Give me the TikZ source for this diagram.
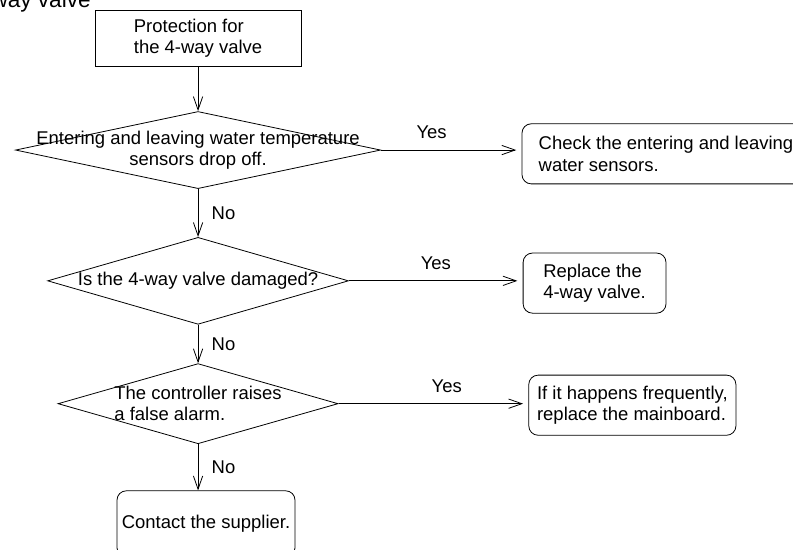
\documentclass[tikz,border=0pt]{standalone}
\usepackage{fontspec}
\setmainfont{Liberation Sans}
\usepackage{tikz}
\usetikzlibrary{positioning,arrows.meta,shapes.geometric}

\begin{document}
\begin{tikzpicture}[
  line width=0.6pt,
  txt/.style={font=\fontsize{13.9}{16}\selectfont},
  box/.style={draw, rectangle, txt, align=left, inner sep=2pt},
  rbox/.style={box, rounded corners=7pt, minimum height=1.59cm},
  dec/.style={draw, diamond, inner sep=0pt},
  dtxt/.style={txt, inner sep=0pt},
  lbl/.style={txt, inner sep=3pt},
  arr/.style={-{Straight Barb[length=10pt,width=7pt]}}
]
\useasboundingbox (0,0) rectangle (20.98,-14.525);

% cut-off heading
\node[font=\fontsize{17}{20}\selectfont, anchor=base east, inner sep=0pt] (title) at (2.41,-0.21) {way valve};

% main column
\node[box, minimum width=5.45cm, minimum height=1.48cm] (start) at (5.24,-1.02) {Protection for\\the 4-way valve};
\node[dec, minimum width=9.66cm, minimum height=2.04cm,
      label={[dtxt, align=center]center:Entering and leaving water temperature\\sensors drop off.}] (chk1) at (5.24,-3.97) {};
\node[dec, minimum width=7.96cm, minimum height=2.30cm,
      label={[dtxt, align=center]center:Is the 4-way valve damaged?}] (chk2) at (5.24,-7.43) {};
\node[dec, minimum width=7.41cm, minimum height=2.12cm,
      label={[dtxt, align=left]center:The controller raises\\a false alarm.}] (chk3) at (5.24,-10.68) {};
\node[rbox, minimum width=4.71cm, minimum height=1.75cm] (supplier) at (5.45,-13.86) {Contact the supplier.};

% actions
\node[rbox, minimum width=7.62cm] (sensors) at (17.62,-4.07) {Check the entering and leaving\\water sensors.};
\node[rbox, minimum width=3.78cm] (valve) at (15.73,-7.49) {Replace the\\4-way valve.};
\node[rbox, minimum width=5.48cm] (board) at (16.73,-10.72) {If it happens frequently,\\replace the mainboard.};

% Arrows
\draw[arr] (start) -- (chk1.north);
\draw[arr] (chk1.south) -- (chk2.north) node[lbl, midway, right=7pt] {No};
\draw[arr] (chk2.south) -- (chk3.north) node[lbl, midway, right=7pt] {No};
\draw[arr] (chk3.south) -- (chk3.south |- supplier.north) node[lbl, midway, right=7pt] {No};
\draw[arr, shorten >=4pt] (chk1.east) -- (chk1.east -| sensors.west) node[lbl, pos=0.36, above=5pt] {Yes};
\draw[arr, shorten >=4pt] (chk2.east) -- (chk2.east -| valve.west) node[lbl, pos=0.5, above=5pt] {Yes};
\draw[arr, shorten >=4pt] (chk3.east) -- (chk3.east -| board.west) node[lbl, pos=0.57, above=5pt] {Yes};

\end{tikzpicture}
\end{document}
